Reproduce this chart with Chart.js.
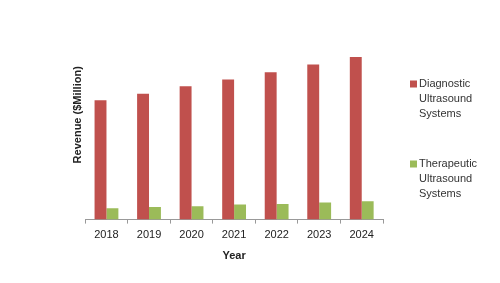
<!DOCTYPE html>
<html lang="en">
<head>
    <meta charset="UTF-8">
    <title>Ultrasound Revenue</title>
    <script src="https://cdn.jsdelivr.net/npm/chart.js"></script>
    <style>
        html, body { margin: 0; padding: 0; background: #fff; }
        .chart { width: 500px; height: 283px; }
    </style>
</head>
<body>

<div class="chart">
    <canvas id="myChart"></canvas>
</div>

<script>
    // data (revenue, $ million, estimated - no axis values shown)
    const anos = ['2018', '2019', '2020', '2021', '2022', '2023', '2024'];
    const diagnostico = [5690, 6010, 6360, 6680, 7030, 7400, 7760];
    const terapeutico = [540, 600, 635, 715, 745, 810, 875];

    const vermelho = '#C0504D';
    const verde = '#9BBB59';
    const fonte = "'Liberation Sans', Arial, sans-serif";

    // legend on the right, one word per line like the original
    const legendaDireita = {
        id: 'legendaDireita',
        afterDraw(chart) {
            const ctx = chart.ctx;
            const topos = [84, 164];
            ctx.save();
            ctx.font = '11px ' + fonte;
            ctx.textBaseline = 'middle';
            chart.data.datasets.forEach(function (ds, i) {
                const linhas = ds.label.split(' ');
                ctx.fillStyle = ds.backgroundColor;
                ctx.fillRect(410, topos[i] - 3.5, 7, 7);
                ctx.fillStyle = '#333';
                linhas.forEach(function (l, j) {
                    ctx.fillText(l, 419, topos[i] + j * 15);
                });
            });
            ctx.restore();
        }
    };

    const dados = {
        labels: anos,
        datasets: [{
            label: 'Diagnostic Ultrasound Systems',
            backgroundColor: vermelho,
            data: diagnostico
        }, {
            label: 'Therapeutic Ultrasound Systems',
            backgroundColor: verde,
            data: terapeutico
        }]
    };

    const config = {
        type: 'bar',
        data: dados,
        plugins: [legendaDireita],
        options: {
            responsive: true,
            maintainAspectRatio: false,
            animation: false,
            layout: { padding: { left: 69, right: 117, top: 10, bottom: 20 } },
            datasets: {
                bar: { categoryPercentage: 0.56, barPercentage: 1 }
            },
            plugins: {
                legend: { display: false },
                tooltip: { enabled: false }
            },
            scales: {
                x: {
                    grid: {
                        display: true,
                        drawOnChartArea: false,
                        drawTicks: true,
                        tickLength: 4,
                        color: '#999'
                    },
                    border: { display: true, color: '#999' },
                    ticks: {
                        color: '#222',
                        font: { family: fonte, size: 11 },
                        padding: 5
                    },
                    title: {
                        display: true,
                        text: 'Year',
                        color: '#222',
                        font: { family: fonte, size: 11, weight: 'bold' },
                        padding: { top: 3, bottom: 0 }
                    }
                },
                y: {
                    min: 0,
                    max: 10000,
                    grid: { display: false, drawTicks: false },
                    border: { display: false },
                    ticks: { display: false },
                    title: {
                        display: true,
                        text: 'Revenue ($Million)',
                        color: '#222',
                        font: { family: fonte, size: 11, weight: 'bold' },
                        padding: { top: 2, bottom: 1 }
                    }
                }
            }
        }
    };

    const myChart = new Chart(document.getElementById('myChart'), config);
</script>
</body>
</html>
